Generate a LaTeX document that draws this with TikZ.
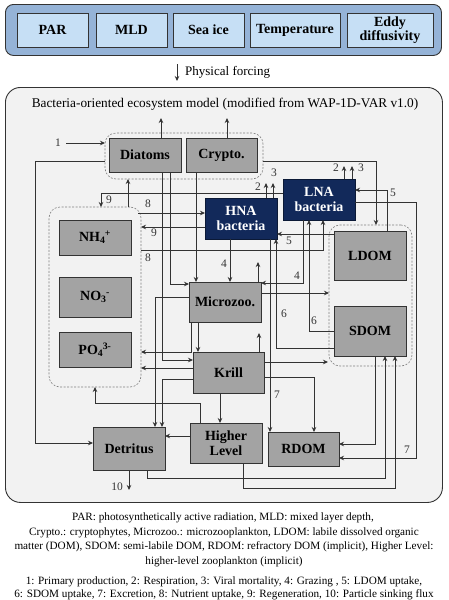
\documentclass[tikz,border=0pt]{standalone}
\usepackage{fontspec}
\setmainfont{Liberation Serif}
\usetikzlibrary{arrows.meta}
\definecolor{topouter}{HTML}{95B3D7}
\definecolor{topinner}{HTML}{C6DFF5}
\definecolor{mainbg}{HTML}{F2F2F2}
\definecolor{boxgray}{HTML}{A3A3A3}
\definecolor{navy}{HTML}{12295A}
\definecolor{linec}{HTML}{333333}
\tikzset{
  box/.style={draw=linec, line width=0.9pt, fill=boxgray, anchor=north west, inner sep=0pt, outer sep=0pt, align=center, font=\fontsize{14}{14.5}\selectfont\bfseries},
  bact/.style={box, fill=navy, text=white, draw=navy!60!black},
  forcebox/.style={box, fill=topinner},
  grp/.style={draw=gray, dash pattern=on 2pt off 1.5pt, rounded corners=11pt, line width=0.6pt, anchor=north west, inner sep=0pt, outer sep=0pt},
  arr/.style={draw=linec, line width=0.8pt, -{Stealth[length=5pt,width=4.5pt]}},
  num/.style={font=\fontsize{11.5}{12}\selectfont, inner sep=0pt, text=linec},
  captext/.style={font=\fontsize{11.2}{12}\selectfont, inner sep=0pt, text=black},
}
\begin{document}
\begin{tikzpicture}[x=1pt,y=-1pt]
\useasboundingbox (0,0) rectangle (448,600);
% top forcing panel
\node[draw=linec, line width=0.9pt, fill=topouter, rounded corners=8pt, anchor=north west, minimum width=436pt, minimum height=51pt, inner sep=0pt] (topbox) at (5,4) {};
\node[forcebox, minimum width=71pt, minimum height=34pt] (par) at (17,13) {PAR};
\node[forcebox, minimum width=71pt, minimum height=34pt] (mld) at (96,13) {MLD};
\node[forcebox, minimum width=71pt, minimum height=34pt] (ice) at (173,13) {Sea ice};
\node[forcebox, minimum width=90pt, minimum height=34pt] (temp) at (250,13) {Temperature};
\node[forcebox, minimum width=86pt, minimum height=34pt] (eddy) at (347,13) {Eddy\\diffusivity};
% physical forcing
\coordinate (pfa) at (177,64);
\coordinate (pfb) at (177,81);
\draw[arr] (pfa) -- (pfb);
\node[anchor=west, inner sep=0pt, font=\fontsize{13}{13}\selectfont] (pftext) at (185,72) {Physical forcing};
% main model box
\node[draw=linec, line width=0.9pt, fill=mainbg, rounded corners=15pt, anchor=north west, minimum width=437pt, minimum height=415pt, inner sep=0pt] (mainbox) at (5,87) {};
\node[inner sep=0pt, font=\fontsize{13.3}{13.3}\selectfont] (title) at (225,104) {Bacteria-oriented ecosystem model (modified from WAP-1D-VAR v1.0)};
% groups
\node[grp, minimum width=158pt, minimum height=46pt] (dgroup) at (105,133) {};
\node[grp, minimum width=92pt, minimum height=180pt] (ngroup) at (49,207) {};
\node[grp, minimum width=83pt, minimum height=141pt] (domgroup) at (329,225) {};
% boxes
\node[box, minimum width=72pt, minimum height=34pt] (diatoms) at (109,138) {Diatoms};
\node[box, minimum width=71pt, minimum height=34pt] (crypto) at (186,138) {Crypto.};
\node[bact, minimum width=72pt, minimum height=41pt] (hna) at (205,198) {HNA\\bacteria};
\node[bact, minimum width=72pt, minimum height=41pt] (lna) at (283,179) {LNA\\bacteria};
\node[box, minimum width=72pt, minimum height=49pt] (ldom) at (334,231) {LDOM};
\node[box, minimum width=72pt, minimum height=50pt] (sdom) at (334,306) {SDOM};
\node[box, minimum width=72pt, minimum height=35pt] (nh4) at (59,220) {NH\textsubscript{4}\kern-0.5pt\textsuperscript{+}};
\node[box, minimum width=72pt, minimum height=40pt] (no3) at (59,277) {NO\textsubscript{3}\kern-0.5pt\textsuperscript{-}};
\node[box, minimum width=72pt, minimum height=35pt] (po4) at (59,332) {PO\textsubscript{4}\kern-0.5pt\textsuperscript{3-}};
\node[box, minimum width=72pt, minimum height=40pt] (micro) at (189,282) {Microzoo.};
\node[box, minimum width=71pt, minimum height=41pt] (krill) at (193,352) {Krill};
\node[box, minimum width=72pt, minimum height=43pt] (detritus) at (93,427) {Detritus};
\node[box, minimum width=72pt, minimum height=40pt] (higher) at (190,423) {Higher\\Level};
\node[box, minimum width=71pt, minimum height=34pt] (rdom) at (268,432) {RDOM};
% ---- connectors ----
% 1 primary production
\coordinate (pp) at (66,143);
\draw[arr] (pp) -- (dgroup.west |- pp);
\node[num] (l1) at (58,143) {1};
% phyto -> detritus
\draw[arr] (dgroup.west |- 0,161) -| (35,443) -- (detritus.west |- 0,443);
% phyto respiration
\draw[arr] (diatoms.north -| 161,0) -- (161,118);
\draw[arr] (crypto.north -| 227,0) -- (227,118);
% grazing on phyto
\draw[arr] (crypto.south -| 196,0) -- (micro.north -| 196,0);
\draw[arr] (diatoms.south -| 170,0) |- (micro.west |- 0,284);
\draw[arr] (diatoms.south -| 162,0) |- (krill.west |- 0,360);
% to detritus
\draw[arr] (micro.west |- 0,297) -| (detritus.north -| 155,0);
\draw[arr] (krill.west |- 0,379) -| (detritus.north -| 162,0);
% regeneration to nutrients
\draw[arr] (micro.south -| 191,0) |- (ngroup.east |- 0,352);
\draw[arr] (krill.west |- 0,368) -- (ngroup.east |- 0,368);
% microzoo -> krill
\draw[arr] (micro.south -| 198,0) -- (krill.north -| 198,0);
% respiration zoo
\draw[arr] (krill.north -| 259,0) -- (259,333);
\draw[arr] (micro.north -| 258,0) -- (258,262);
% krill -> higher
\draw[arr] (krill.south -| 220,0) -- (higher.north -| 220,0);
% higher -> detritus
\draw[arr] (higher.west |- 0,436) -- (detritus.east |- 0,436);
% higher -> nutrients
\draw[arr] (higher.north -| 200,0) |- (95,403) -- (ngroup.south -| 95,0);
% to SDOM from bottom
\draw[arr] (detritus.south -| 147,0) |- (385,478) -- (sdom.south -| 385,0);
\draw[arr] (higher.south -| 243,0) |- (395,488) -- (sdom.south -| 395,0);
% SDOM -> RDOM
\draw[arr] (sdom.south -| 375,0) |- (rdom.east |- 0,444);
% LNA -> RDOM (7)
\draw[arr] (lna.east |- 0,202) -| (416,458) -- (rdom.east |- 0,458);
\node[num] (l7a) at (407,450) {7};
% Krill -> RDOM
\draw[arr] (krill.east |- 0,377) -| (rdom.north -| 314,0);
% HNA -> RDOM (7)
\draw[arr] (hna.south -| 270,0) -- (rdom.north -| 270,0);
\node[num] (l7b) at (277,395) {7};
% SDOM uptake (6)
\draw[arr] (sdom.west |- 0,348) -| (hna.south -| 276,0);
\node[num] (l6a) at (284,314) {6};
\draw[arr] (sdom.west |- 0,331) -| (lna.south -| 309,0);
\node[num] (l6b) at (314,321) {6};
% LNA grazed (4)
\draw[arr] (lna.south -| 303,0) |- (micro.east |- 0,283);
\node[num] (l4a) at (297,276) {4};
% nutrients -> LNA (8)
\draw[arr] (ngroup.east |- 0,250) -| (lna.south -| 323,0);
\node[num] (l8b) at (148,258) {8};
% LDOM uptake (5)
\draw[arr] (ldom.west |- 0,234) -- (hna.east |- 0,234);
\node[num] (l5a) at (289,241) {5};
\draw[arr] (ldom.north -| 387,0) |- (lna.east |- 0,190);
\node[num] (l5b) at (393,193) {5};
% phyto -> DOM
\draw[arr] (dgroup.east |- 0,161) -| (domgroup.north -| 376,0);
% bacteria respiration / viral mortality
\draw[arr] (hna.north -| 266,0) -- (266,183);
\draw[arr] (hna.north -| 273,0) -- (273,183);
\node[num] (l2a) at (258,187) {2};
\node[num] (l3a) at (274,173) {3};
\draw[arr] (lna.north -| 344,0) -- (344,166);
\draw[arr] (lna.north -| 352,0) -- (352,166);
\node[num] (l2b) at (336,168) {2};
\node[num] (l3b) at (361,168) {3};
% HNA grazed (4)
\draw[arr] (hna.south -| 230,0) -- (micro.north -| 230,0);
\node[num] (l4b) at (224,264) {4};
% regeneration from LNA (9)
\draw[arr] (lna.west |- 0,193) -| (ngroup.north -| 101,0);
\node[num] (l9a) at (109,200) {9};
% nutrients -> phyto
\draw[arr] (ngroup.north -| 128,0) -- (dgroup.south -| 128,0);
% nutrients -> HNA (8)
\coordinate (nhs) at (138,213);
\draw[arr] (nhs) -- (hna.west |- nhs);
\node[num] (l8a) at (148,204) {8};
% HNA -> nutrients (9)
\draw[arr] (hna.west |- 0,227) -- (ngroup.east |- 0,227);
\node[num] (l9b) at (154,233) {9};
% zoo -> DOM group
\draw[arr] (micro.east |- 0,293) -- (domgroup.west |- 0,293);
\coordinate (kd) at (328,362);
\draw[arr] (krill.east |- 0,362) -- (kd);
% sinking (10)
\draw[arr] (detritus.south -| 129,0) -- (129,490);
\node[num] (l10) at (117,487) {10};
% captions
\node[captext] (c1) at (223,518) {PAR: photosynthetically active radiation, MLD: mixed layer depth,};
\node[captext] (c2) at (224,533) {Crypto.: cryptophytes, Microzoo.: microzooplankton, LDOM: labile dissolved organic};
\node[captext] (c3) at (224,547) {matter (DOM), SDOM: semi-labile DOM, RDOM: refractory DOM (implicit), Higher Level:};
\node[captext] (c4) at (224,562) {higher-level zooplankton (implicit)};
\node[captext] (c5) at (224,582) {1: Primary production, 2: Respiration, 3: Viral mortality, 4: Grazing , 5: LDOM uptake,};
\node[captext] (c6) at (224,595) {6: SDOM uptake, 7: Excretion, 8: Nutrient uptake, 9: Regeneration, 10: Particle sinking flux};
\end{tikzpicture}
\end{document}
